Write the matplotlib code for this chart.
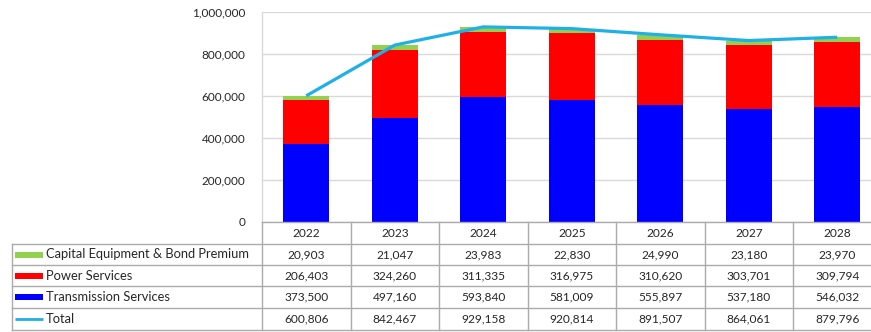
import matplotlib
matplotlib.use("Agg")
import matplotlib.pyplot as plt
from matplotlib.patches import Rectangle
import numpy as np

plt.rcParams['font.family'] = ['Lato', 'DejaVu Sans']

years = ["2022", "2023", "2024", "2025", "2026", "2027", "2028"]
capital = [20903, 21047, 23983, 22830, 24990, 23180, 23970]
power = [206403, 324260, 311335, 316975, 310620, 303701, 309794]
transmission = [373500, 497160, 593840, 581009, 555897, 537180, 546032]
total = [600806, 842467, 929158, 920814, 891507, 864061, 879796]

series_names = ["Capital Equipment & Bond Premium", "Power Services", "Transmission Services", "Total"]
C_GREEN = "#92D050"
C_RED = "#FF0000"
C_BLUE = "#0000FF"
C_LINE = "#1FB0E8"
GRID = "#D9D9D9"
TBL = "#ABABAB"
TXT = "#262626"

W, H = 871, 332
fig = plt.figure(figsize=(W / 100, H / 100), dpi=100)

ax = fig.add_axes([262 / W, 110 / H, 88.5 * 7 / W, 210 / H])
x = np.arange(len(years))
bw = 0.52
ax.bar(x, transmission, bw, color=C_BLUE, zorder=2)
ax.bar(x, power, bw, bottom=transmission, color=C_RED, zorder=2)
bottom2 = np.array(transmission) + np.array(power)
ax.bar(x, capital, bw, bottom=bottom2, color=C_GREEN, zorder=2)
ax.plot(x, total, color=C_LINE, lw=2.3, zorder=3, solid_capstyle='butt')

ax.set_xlim(-0.5, len(years) - 0.5)
ax.set_ylim(0, 1000000)
ax.set_yticks(np.arange(0, 1000001, 200000))
ax.set_yticklabels([f"{v:,}" for v in range(0, 1000001, 200000)], fontsize=8.5, color=TXT)
ax.tick_params(axis='y', length=0, pad=12)
ax.set_xticks([])
ax.grid(axis='y', color=GRID, lw=1, zorder=0)
for s in ['top', 'right', 'bottom']:
    ax.spines[s].set_visible(False)
ax.spines['left'].set_color(GRID)
ax.spines['left'].set_linewidth(1)

# Overlay axes in pixel coordinates for the data table
ov = fig.add_axes([0, 0, 1, 1])
ov.set_xlim(0, W)
ov.set_ylim(H, 0)
ov.axis('off')
ov.patch.set_alpha(0)

fig.canvas.draw()
def px(xd):
    d = ax.transData.transform((xd, 0))
    return d[0]

bounds = [px(i - 0.5) for i in range(len(years) + 1)]
centers = [px(i) for i in range(len(years))]
y0 = H - ax.transData.transform((0, 0))[1]

row_edges = [y0, 243.5, 264.5, 286, 307.5, 329.5]
left = 12
lw = 1.0
ov.plot([bounds[0], bounds[-1]], [row_edges[0]] * 2, color=TBL, lw=lw)
for yy in row_edges[1:]:
    ov.plot([left, bounds[-1]], [yy, yy], color=TBL, lw=lw)
ov.plot([left, left], [row_edges[1], row_edges[-1]], color=TBL, lw=lw)
for b in bounds:
    ov.plot([b, b], [row_edges[0], row_edges[-1]], color=TBL, lw=lw)

for c, yr in zip(centers, years):
    ov.text(c, (row_edges[0] + row_edges[1]) / 2 + 0.5, yr, ha='center', va='center', fontsize=8.6, color=TXT)

rows = [capital, power, transmission, total]
colors = [C_GREEN, C_RED, C_BLUE, C_LINE]
for r, (name, vals, col) in enumerate(zip(series_names, rows, colors)):
    yc = (row_edges[r + 1] + row_edges[r + 2]) / 2 + 0.5
    if name == "Total":
        ov.plot([15, 43], [yc, yc], color=col, lw=2.0, solid_capstyle='butt')
    else:
        ov.add_patch(Rectangle((15, yc - 3), 28, 6, color=col, lw=0))
    ov.text(46, yc, name, ha='left', va='center', fontsize=9.3, color=TXT)
    for c, v in zip(centers, vals):
        ov.text(c, yc, f"{v:,}", ha='center', va='center', fontsize=8.6, color=TXT)

fig.savefig("out.png", dpi=100)
